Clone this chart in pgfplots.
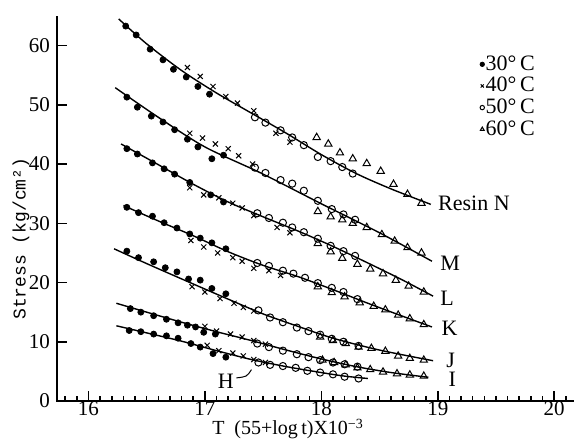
\documentclass[border=0pt]{standalone}
\usepackage{fontspec}
\setmainfont{Liberation Serif}
\newfontfamily\monof{Liberation Mono}
\usepackage{pgfplots}
\pgfplotsset{compat=1.18}
\pgfplotsset{
  fit/.style={black, line width=0.7pt, smooth, no marks, forget plot},
  d30/.style={only marks, black, mark=*, mark size=1.5pt},
  d40/.style={only marks, black, mark=x, mark size=1.8pt, mark options={line width=0.5pt}},
  d50/.style={only marks, black, mark=o, mark size=1.8pt, mark options={fill=white, line width=0.5pt}},
  d60/.style={only marks, black, mark=triangle, mark size=2.1pt, mark options={fill=white, line width=0.5pt}},
}
\begin{document}
\begin{tikzpicture}
\path[use as bounding box] (-28.5pt,-19pt) rectangle (258.5pt,200.5pt);
\begin{axis}[
  at={(0,0)}, anchor=south west,
  width=258.5pt, height=192.5pt, scale only axis,
  xmin=15.73, xmax=20.17, ymin=0, ymax=65,
  axis line style={draw=none},
  xtick pos=lower, ytick pos=left,
  xtick={16,17,18,19,20}, ytick={0,10,...,60},
  minor x tick num=9,
  extra x ticks={15.8,15.9,20.1}, extra x tick labels={},
  extra x tick style={major tick length=2.6pt},
  tick align=inside, major tick length=4.8pt, minor tick length=2.6pt,
  tick style={black, line width=0.8pt},
  /pgf/number format/assume math mode=true,
  tick label style={font=\fontsize{10.5}{12}\selectfont},
  xticklabel style={inner sep=0pt, yshift=-0.2pt},
  clip=false,
  legend style={draw=none, fill=none, at={(axis cs:19.36,58.6)}, anchor=north west,
    font=\fontsize{11}{11}\selectfont, row sep=0.8pt, inner sep=0pt,
    nodes={inner sep=0.6pt}},
  legend cell align=left,
  legend image code/.code={\draw[#1, mark size=1.1pt] plot coordinates {(0pt,0pt)};},
]
\draw[line width=0.9pt] (axis cs:15.73,65) -- (axis cs:15.73,0) -- (axis cs:20.17,0);
% Resin N
\addplot[fit] coordinates {(16.26,64.5)(16.5,60.3)(16.8,55.8)(17.1,52.0)(17.4,48.6)(17.7,45.2)(18.0,41.6)(18.3,38.4)(18.6,35.8)(18.94,33.2)};
\addplot[d30] coordinates {(16.32,63.3)(16.41,61.8)(16.53,59.4)(16.64,57.6)(16.73,56.0)(16.84,54.7)(16.94,53.1)(17.04,51.8)};
\addlegendentry{30°\,C}
\addplot[d40] coordinates {(16.85,56.3)(16.96,54.8)(17.07,53.1)(17.18,51.4)(17.28,50.3)(17.42,49.0)(17.61,45.2)(17.73,43.7)};
\addlegendentry{40°\,C}
\addplot[d50] coordinates {(17.43,47.9)(17.52,47.0)(17.65,45.7)(17.75,44.5)(17.85,43.2)(17.97,41.2)(18.08,40.5)(18.18,39.5)(18.27,38.4)};
\addlegendentry{50°\,C}
\addplot[d60] coordinates {(17.96,44.5)(18.06,43.4)(18.16,41.9)(18.27,40.9)(18.39,40.1)(18.51,38.8)(18.62,36.6)(18.74,34.9)(18.86,33.4)};
\addlegendentry{60°\,C}
% Resin M
\addplot[fit] coordinates {(16.23,52.9)(16.6,47.9)(17.0,42.9)(17.48,38.5)(18.0,33.3)(18.5,28.4)(18.95,23.6)};
\addplot[d30, forget plot] coordinates {(16.33,51.3)(16.42,49.6)(16.54,48.1)(16.64,47.1)(16.74,45.8)(16.85,44.2)(16.94,42.9)(17.06,40.9)(17.16,41.5)};
\addplot[d40, forget plot] coordinates {(16.87,45.2)(16.98,44.4)(17.09,43.4)(17.20,42.6)(17.29,41.4)(17.41,40.0)};
\addplot[d50, forget plot] coordinates {(17.43,39.4)(17.52,38.5)(17.65,37.3)(17.75,36.7)(17.85,35.5)(17.97,33.8)(18.09,32.4)(18.19,31.5)(18.29,30.6)};
\addplot[d60, forget plot] coordinates {(17.97,32.0)(18.08,31.1)(18.18,30.6)(18.27,30.0)(18.39,29.3)(18.52,28.1)(18.63,27.0)(18.74,25.9)(18.86,25.0)};
% Resin L
\addplot[fit] coordinates {(16.28,43.4)(16.6,39.9)(16.9,36.6)(17.2,33.6)(17.5,31.1)(17.8,28.7)(18.1,26.1)(18.4,23.3)(18.7,20.4)(18.96,17.7)};
\addplot[d30, forget plot] coordinates {(16.33,42.6)(16.42,41.7)(16.55,40.2)(16.65,39.2)(16.74,38.3)(16.87,36.9)(17.05,34.8)(17.16,33.6)};
\addplot[d40, forget plot] coordinates {(16.87,36.0)(16.99,34.8)(17.12,34.3)(17.24,33.4)(17.32,32.6)(17.42,31.3)(17.62,29.3)(17.73,28.4)};
\addplot[d50, forget plot] coordinates {(17.45,31.7)(17.55,30.9)(17.67,30.1)(17.75,29.3)(17.85,28.5)(17.97,27.4)(18.08,26.2)(18.19,25.3)(18.29,24.5)};
\addplot[d60, forget plot] coordinates {(17.97,26.6)(18.08,25.2)(18.18,24.1)(18.31,23.1)(18.42,22.3)(18.53,21.5)(18.64,20.4)(18.75,19.4)(18.88,18.4)};
% Resin K
\addplot[fit] coordinates {(16.30,33.0)(16.6,30.4)(16.9,27.9)(17.2,25.2)(17.5,22.9)(17.8,21.0)(18.1,18.8)(18.4,16.5)(18.7,14.3)(18.95,12.5)};
\addplot[d30, forget plot] coordinates {(16.33,32.7)(16.43,31.8)(16.55,31.2)(16.65,30.1)(16.76,29.2)(16.87,28.2)(16.96,27.5)(17.06,26.7)(17.18,25.7)};
\addplot[d40, forget plot] coordinates {(16.88,27.1)(16.99,26.0)(17.11,25.0)(17.24,24.2)(17.32,23.6)(17.42,22.4)(17.55,22.0)(17.65,21.2)};
\addplot[d50, forget plot] coordinates {(17.45,23.3)(17.55,22.8)(17.67,22.0)(17.76,21.5)(17.86,20.8)(17.97,19.9)(18.09,19.1)(18.19,18.4)(18.31,17.2)};
\addplot[d60, forget plot] coordinates {(17.97,19.3)(18.09,18.3)(18.20,17.6)(18.33,16.6)(18.45,16.0)(18.55,15.4)(18.66,14.5)(18.76,13.9)(18.88,12.9)};
% Resin J
\addplot[fit] coordinates {(16.22,25.7)(16.5,23.2)(16.86,20.1)(17.2,17.2)(17.5,14.7)(17.8,12.6)(18.1,10.6)(18.5,8.6)(18.96,6.8)};
\addplot[d30, forget plot] coordinates {(16.33,25.3)(16.43,24.2)(16.56,23.5)(16.66,22.5)(16.76,21.8)(16.86,20.6)(16.96,20.4)(17.06,19.0)(17.18,18.1)};
\addplot[d40, forget plot] coordinates {(16.89,19.3)(17.00,18.4)(17.13,17.3)(17.25,16.5)(17.33,15.8)(17.42,15.2)};
\addplot[d50, forget plot] coordinates {(17.46,15.3)(17.56,14.1)(17.67,13.3)(17.79,12.4)(17.89,11.8)(17.99,11.2)(18.09,10.5)(18.19,10.0)(18.32,9.3)};
\addplot[d60, forget plot] coordinates {(17.99,10.8)(18.10,10.2)(18.21,9.7)(18.32,9.1)(18.43,8.9)(18.55,8.4)(18.66,7.6)(18.76,7.2)(18.88,6.9)};
% Resin I
\addplot[fit] coordinates {(16.24,16.5)(16.5,15.0)(16.8,13.3)(17.1,11.7)(17.4,10.2)(17.7,8.6)(18.0,7.1)(18.3,5.8)(18.6,4.8)(18.92,4.0)};
\addplot[d30, forget plot] coordinates {(16.36,15.6)(16.45,15.0)(16.56,14.4)(16.67,13.8)(16.77,13.2)(16.85,12.8)(16.92,12.5)(16.99,11.6)(17.09,11.3)};
\addplot[d40, forget plot] coordinates {(17.00,12.6)(17.10,11.8)(17.22,11.3)(17.32,10.8)(17.42,10.2)(17.52,9.6)};
\addplot[d50, forget plot] coordinates {(17.45,9.7)(17.55,9.1)(17.67,8.5)(17.79,7.9)(17.89,7.4)(17.99,6.9)(18.10,6.5)(18.20,6.2)(18.31,5.8)};
\addplot[d60, forget plot] coordinates {(18.01,6.9)(18.11,6.5)(18.21,6.1)(18.31,5.6)(18.42,5.3)(18.53,4.9)(18.65,4.6)(18.76,4.4)(18.88,4.2)};
% Resin H
\addplot[fit] coordinates {(16.24,12.7)(16.5,11.5)(16.8,10.1)(17.1,8.5)(17.4,7.0)(17.7,5.8)(18.0,4.8)(18.2,4.2)(18.40,3.8)};
\addplot[d30, forget plot] coordinates {(16.35,11.9)(16.45,11.7)(16.56,11.3)(16.67,11.0)(16.77,10.6)(16.88,9.7)(16.96,9.1)(17.07,8.0)(17.18,7.4)};
\addplot[d40, forget plot] coordinates {(17.02,9.4)(17.12,8.5)(17.24,8.1)(17.33,7.6)(17.42,7.0)(17.52,6.5)};
\addplot[d50, forget plot] coordinates {(17.46,6.5)(17.56,6.1)(17.67,5.9)(17.78,5.6)(17.88,5.1)(17.99,4.8)(18.10,4.5)(18.20,4.1)(18.32,3.8)};
% labels
\begin{scope}[every node/.style={font=\fontsize{11}{12}\selectfont, inner sep=0pt, anchor=west}]
\node at (axis cs:19.00,33.3) {Resin N};
\node at (axis cs:19.02,23.3) {M};
\node at (axis cs:19.02,17.4) {L};
\node at (axis cs:19.03,12.3) {K};
\node at (axis cs:19.07,6.8) {J};
\node at (axis cs:19.09,3.6) {I};
\node[anchor=center] at (axis cs:17.18,3.4) {H};
\end{scope}
\draw[line width=0.5pt] (axis cs:17.27,3.9) .. controls (axis cs:17.36,4.1) .. (axis cs:17.40,5.3);
\node[rotate=90, font=\monof\fontsize{9}{10}\selectfont] at (axis cs:15.42,27.4) {Stress (kg/cm²)};
\node[font=\fontsize{10}{11}\selectfont, inner sep=0pt, anchor=south] at (axis cs:17.71,-6.38) {T\ \ (55+log\,t)X10\raisebox{0.26em}{\fontsize{7}{7}\selectfont −3}};
\end{axis}
\end{tikzpicture}
\end{document}
